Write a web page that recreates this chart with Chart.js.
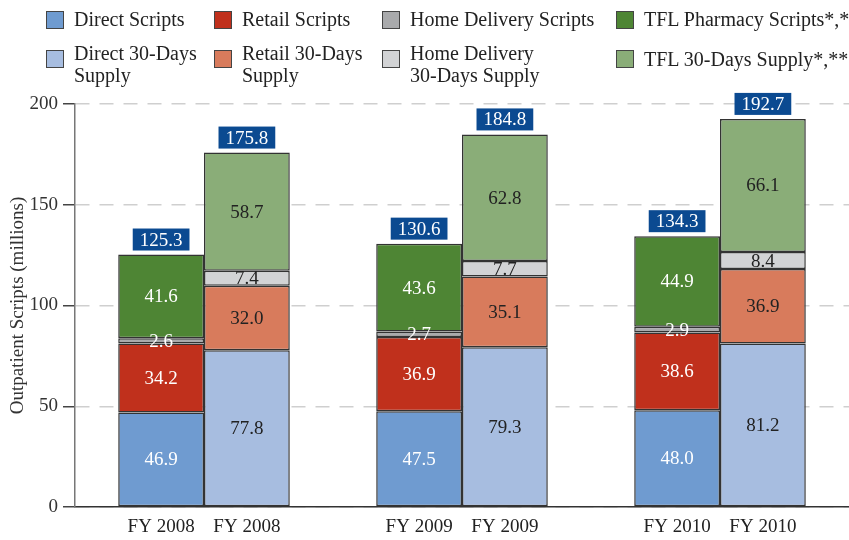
<!DOCTYPE html>
<html>
<head>
<meta charset="utf-8">
<script src="https://cdn.jsdelivr.net/npm/chart.js@4.4.1/dist/chart.umd.min.js"></script>
<style>
  html, body { margin: 0; padding: 0; background: #fff; }
  #wrap { position: relative; width: 849px; height: 540px; overflow: hidden; }
  #legend { position: absolute; left: 0; top: 0; width: 849px; height: 95px; font-family: "Liberation Serif", "Times New Roman", serif; font-size: 20px; color: #222; }
  .box { position: absolute; width: 18px; height: 18px; border: 1px solid #444; box-sizing: border-box; }
  .txt { position: absolute; white-space: pre; line-height: 22px; }
</style>
</head>
<body>
<div id="wrap">
  <canvas id="c" width="849" height="540"></canvas>
  <div id="legend"></div>
</div>
<script>
// ---- data ----
const categories = ['FY 2008', 'FY 2009', 'FY 2010'];
const directScripts = [46.9, 47.5, 48.0];
const retailScripts = [34.2, 36.9, 38.6];
const homeScripts = [2.6, 2.7, 2.9];
const tflScripts = [41.6, 43.6, 44.9];
const scriptTotals = [125.3, 130.6, 134.3];
const directSupply = [77.8, 79.3, 81.2];
const retailSupply = [32.0, 35.1, 36.9];
const homeSupply = [7.4, 7.7, 8.4];
const tflSupply = [58.7, 62.8, 66.1];
const supplyTotals = [175.8, 184.8, 192.7];
const yTicks = [0, 50, 100, 150, 200];
const seriesLabels = ['Direct Scripts', 'Retail Scripts', 'Home Delivery Scripts', 'TFL Pharmacy Scripts*,**',
  'Direct 30-Days\nSupply', 'Retail 30-Days\nSupply', 'Home Delivery\n30-Days Supply', 'TFL 30-Days Supply*,**'];

// ---- styles ----
const colors = ['#6f9bd0', '#c0301c', '#a9aaac', '#4e8534', '#a7bde0', '#d87b5c', '#d2d3d5', '#8aad78'];
const FONT = '"Liberation Serif", "Times New Roman", serif';

function ds(i, data, stack) {
  return {
    label: seriesLabels[i].replace('\n', ' '),
    data: data,
    stack: stack,
    backgroundColor: colors[i],
    borderColor: '#333',
    borderWidth: 1.5,
    borderSkipped: false,
    labelColor: stack === 's' ? '#ffffff' : '#222222'
  };
}

const datasets = [
  ds(0, directScripts, 's'), ds(1, retailScripts, 's'), ds(2, homeScripts, 's'), ds(3, tflScripts, 's'),
  ds(4, directSupply, 'd'), ds(5, retailSupply, 'd'), ds(6, homeSupply, 'd'), ds(7, tflSupply, 'd')
];

// legend (HTML): [box left, box top, text top]
const legendPos = [[46, 11, 8], [214, 11, 8], [382, 11, 8], [616, 11, 8],
                   [46, 50, 42], [214, 50, 42], [382, 50, 42], [616, 50, 48]];
const legendEl = document.getElementById('legend');
seriesLabels.forEach((lab, i) => {
  const b = document.createElement('div');
  b.className = 'box';
  b.style.background = colors[i];
  b.style.left = legendPos[i][0] + 'px';
  b.style.top = legendPos[i][1] + 'px';
  const t = document.createElement('div');
  t.className = 'txt';
  t.textContent = lab;
  t.style.left = (legendPos[i][0] + 28) + 'px';
  t.style.top = legendPos[i][2] + 'px';
  legendEl.appendChild(b); legendEl.appendChild(t);
});

const labelPlugin = {
  id: 'labels',
  afterDatasetsDraw(chart) {
    const ctx = chart.ctx;
    ctx.save();
    ctx.font = '19px ' + FONT;
    ctx.textAlign = 'center';
    ctx.textBaseline = 'middle';
    // segment values
    chart.data.datasets.forEach((d, di) => {
      const meta = chart.getDatasetMeta(di);
      meta.data.forEach((bar, i) => {
        const v = d.data[i];
        ctx.fillStyle = d.labelColor;
        ctx.fillText(v.toFixed(1), bar.x, (bar.y + bar.base) / 2 + 1);
      });
    });
    // totals boxes
    const tops = [[3, scriptTotals], [7, supplyTotals]];
    tops.forEach(([di, totals]) => {
      const meta = chart.getDatasetMeta(di);
      meta.data.forEach((bar, i) => {
        const txt = totals[i].toFixed(1);
        const w = ctx.measureText(txt).width + 14;
        const h = 22;
        const bottom = bar.y - 4;
        ctx.fillStyle = '#0b4a91';
        ctx.fillRect(bar.x - w / 2, bottom - h, w, h);
        ctx.fillStyle = '#ffffff';
        ctx.fillText(txt, bar.x, bottom - h / 2 + 1);
      });
    });
    // x labels under every bar
    [0, 4].forEach(di => {
      const meta = chart.getDatasetMeta(di);
      meta.data.forEach((bar, i) => {
        ctx.fillStyle = '#222';
        ctx.fillText(categories[i], bar.x, chart.chartArea.bottom + 20);
      });
    });
    ctx.restore();
  }
};

new Chart(document.getElementById('c'), {
  type: 'bar',
  data: { labels: categories, datasets: datasets },
  options: {
    responsive: false,
    animation: false,
    events: [],
    layout: { padding: { top: 104, left: 0, right: 0, bottom: 0 } },
    datasets: { bar: { categoryPercentage: 0.665, barPercentage: 1.0 } },
    plugins: { legend: { display: false }, tooltip: { enabled: false } },
    scales: {
      x: {
        stacked: true,
        grid: { display: false, drawTicks: false },
        border: { display: true, color: '#333', width: 1.5 },
        ticks: { display: false },
        afterFit(s) { s.height = 33; }
      },
      y: {
        stacked: true,
        min: yTicks[0],
        max: yTicks[yTicks.length - 1],
        afterBuildTicks(s) { s.ticks = yTicks.map(v => ({ value: v })); },
        ticks: { font: { family: FONT, size: 19 }, color: '#333', padding: 5 },
        grid: { color: '#cfcfcf', lineWidth: 1.5, tickLength: 12, tickColor: '#444', tickWidth: 1.5 },
        border: { display: true, color: '#777', width: 1.5, dash: [14, 10] },
        title: { display: true, text: 'Outpatient Scripts (millions)', font: { family: FONT, size: 19 }, color: '#333', padding: { top: 7, bottom: 0 } },
        afterFit(s) { s.width = 75; }
      }
    }
  },
  plugins: [labelPlugin]
});
</script>
</body>
</html>
